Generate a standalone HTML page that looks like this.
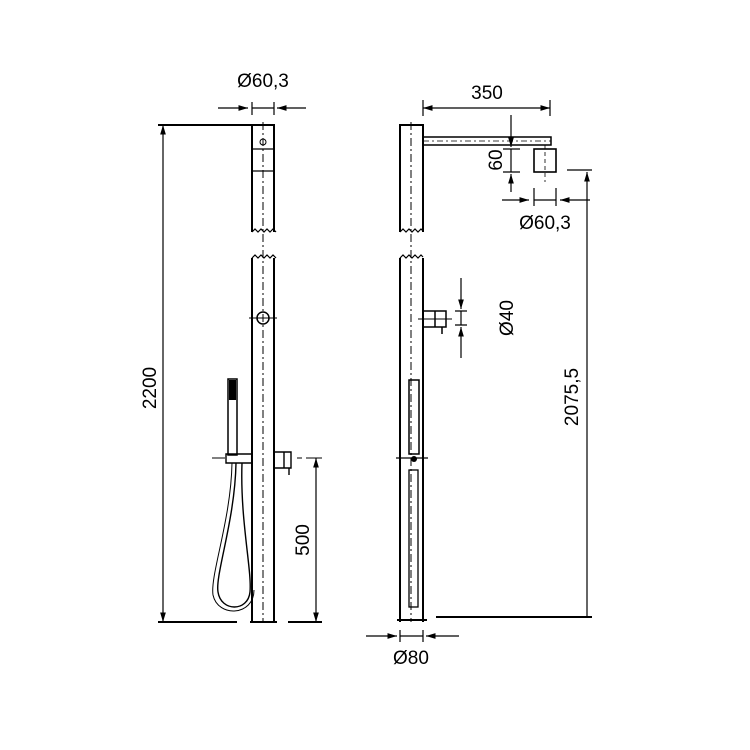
<!DOCTYPE html>
<html><head><meta charset="utf-8"><style>body{margin:0;background:#fff}svg{display:block}</style></head>
<body>
<svg width="750" height="750" viewBox="0 0 750 750" xmlns="http://www.w3.org/2000/svg" font-family="Liberation Sans, sans-serif" fill="none" stroke="#000">
<defs>
<marker id="a" viewBox="0 0 10 6" refX="10" refY="3" markerWidth="8" markerHeight="5" orient="auto-start-reverse"><path d="M0,0 L10,3 L0,6z" fill="#000" stroke="none"/></marker>
</defs>
<g stroke-width="2">
<!-- LEFT POLE -->
<path d="M252,232 V125 H274 V232"/>
<path d="M252,258 V622 M274,258 V622"/>
<path d="M252,149 H274 M252,171 H274" stroke-width="1.3"/>
<path d="M252,232 l3,-3 3,3 3,-3 3,3 3,-3 3,3 3,-3 3,3 M252,258 l3,-3 3,3 3,-3 3,3 3,-3 3,3 3,-3 3,3" stroke-width="1.2"/>
<circle cx="263" cy="318" r="6" stroke-width="1.5"/>
<path d="M249,318 H277" stroke-width="1"/>
<circle cx="263" cy="142" r="3" stroke-width="1"/>
<path d="M263,122 V622" stroke-width="1" stroke-dasharray="8,3,2,3"/>
<!-- ground -->
<path d="M158,622 H237 M250,622 H277 M288,622 H322"/>
<path d="M158,125 H252"/>
<!-- hand shower -->
<rect x="228" y="379" width="9" height="76" stroke-width="1.5"/>
<rect x="229" y="380" width="7" height="20" fill="#000" stroke="none"/>
<path d="M226,454 H252 V463 H226 Z" stroke-width="1.4"/>
<path d="M274,452 H291 V468 H274 Z M284,452 V468 M289,468 V475" stroke-width="1.4"/>
<path d="M236,463 C235,520 215,575 218,592 C221,612 248,612 250,592 C252,570 240,520 242,463" stroke-width="1.4"/>
<path d="M232,463 C231,520 210,575 213,595 C218,618 254,616 254,590" stroke-width="1"/>
<path d="M212,458 H225 M297,458 H302 M306,458 H322" stroke-width="1"/>
<!-- RIGHT POLE -->
<path d="M400,232 V125 H423 V232"/>
<path d="M400,258 V622 M423,258 V622"/>
<path d="M400,232 l3,-3 3,3 3,-3 3,3 3,-3 3,3 3,-3 2,2 M400,258 l3,-3 3,3 3,-3 3,3 3,-3 3,3 3,-3 2,2" stroke-width="1.2"/>
<path d="M411,122 V622" stroke-width="1" stroke-dasharray="8,3,2,3"/>
<path d="M397,620 H427"/>
<rect x="423" y="137" width="128" height="8" stroke-width="1.5"/>
<path d="M423,141 H551" stroke-width="0.8" stroke-dasharray="6,3,2,3"/>
<rect x="534" y="149" width="22" height="23" stroke-width="1.6"/>
<path d="M545,145 V182" stroke-width="0.8" stroke-dasharray="4,3"/>
<path d="M423,311 H446 V327 H423 Z M435,311 V327 M442,327 V334" stroke-width="1.5"/>
<path d="M418,319 H452" stroke-width="1"/>
<rect x="409" y="380" width="10" height="74" stroke-width="1.5"/>
<rect x="409" y="470" width="9" height="137" stroke-width="1.3"/>
<path d="M396,458 H428" stroke-width="1.2"/>
<circle cx="414" cy="459" r="3" fill="#000" stroke="none"/>
</g>
<g stroke-width="1.2">
<!-- dims left -->
<path d="M163,125 V622" marker-start="url(#a)" marker-end="url(#a)"/>
<path d="M218,108 H248" marker-end="url(#a)"/>
<path d="M306,108 H277" marker-end="url(#a)"/>
<path d="M252,108 H274 M252,102 V115 M274,102 V115"/>
<path d="M316,458 V622" marker-start="url(#a)" marker-end="url(#a)"/>
<!-- dims right -->
<path d="M423,108 H550" marker-start="url(#a)" marker-end="url(#a)"/>
<path d="M423,100 V116 M550,100 V116"/>
<path d="M511,115 V147" marker-end="url(#a)"/>
<path d="M511,192 V174" marker-end="url(#a)"/>
<path d="M511,149 V172 M503,149 H520 M503,172 H520"/>
<path d="M502,200 H529" marker-end="url(#a)"/>
<path d="M590,200 H560" marker-end="url(#a)"/>
<path d="M534,200 H556 M534,188 V206 M556,188 V206"/>
<path d="M567,170 H592"/>
<path d="M587,172 V617" marker-start="url(#a)"/>
<path d="M436,617 H592" stroke-width="2"/>
<path d="M461,278 V309" marker-end="url(#a)"/>
<path d="M461,358 V327" marker-end="url(#a)"/>
<path d="M461,311 V325 M455,311 H467 M455,325 H467"/>
<path d="M366,636 H397" marker-end="url(#a)"/>
<path d="M459,636 H426" marker-end="url(#a)"/>
<path d="M400,636 H423 M400,630 V642 M423,630 V642"/>
</g>
<g fill="#000" stroke="none" font-size="19">
<text x="263" y="87" text-anchor="middle">Ø60,3</text>
<text x="487" y="99" text-anchor="middle">350</text>
<text x="545" y="229" text-anchor="middle">Ø60,3</text>
<text x="411" y="664" text-anchor="middle">Ø80</text>
<text transform="translate(156,388) rotate(-90)" text-anchor="middle">2200</text>
<text transform="translate(309,540) rotate(-90)" text-anchor="middle">500</text>
<text transform="translate(502,160) rotate(-90)" text-anchor="middle">60</text>
<text transform="translate(513,318) rotate(-90)" text-anchor="middle">Ø40</text>
<text transform="translate(578,397) rotate(-90)" text-anchor="middle">2075,5</text>
</g>
</svg>
</body></html>
